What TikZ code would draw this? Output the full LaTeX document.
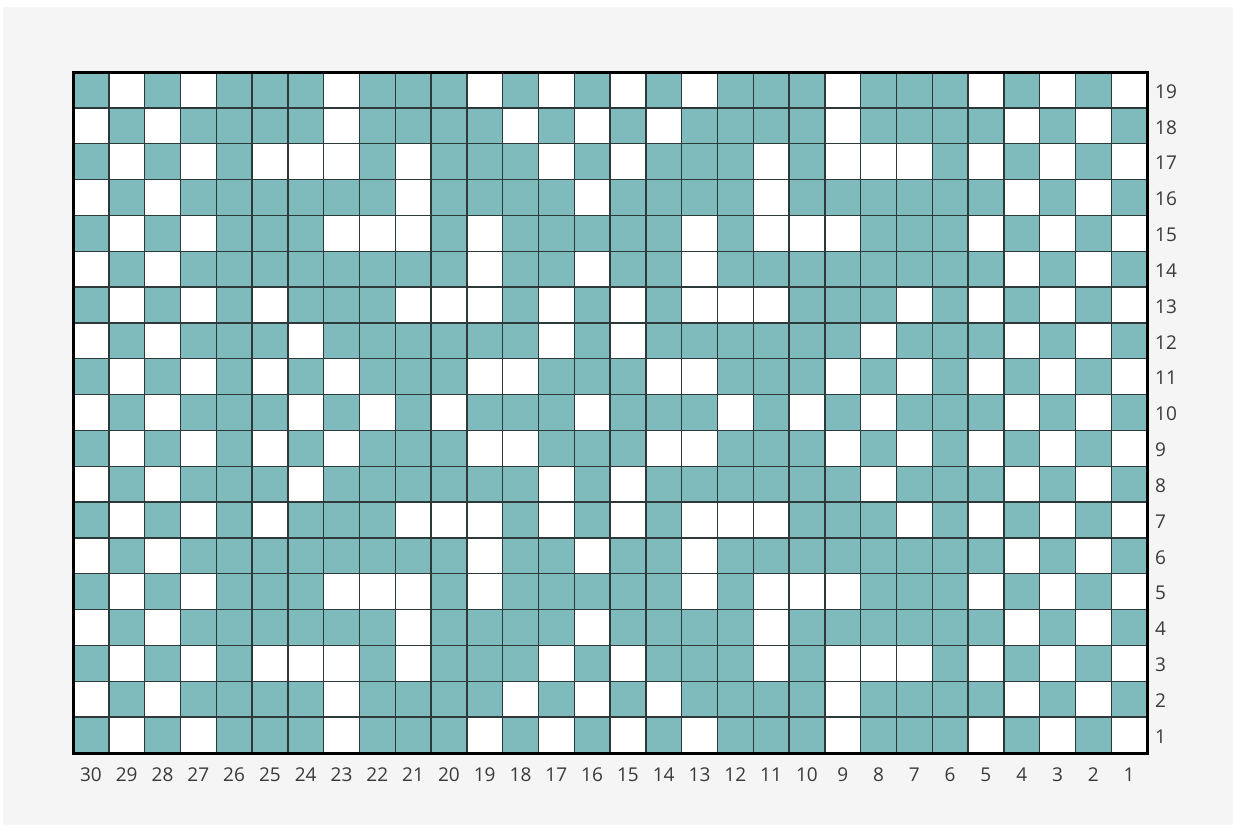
\documentclass[tikz,border=0pt]{standalone}
\usepackage{fontspec}
\setmainfont{Open Sans}
\definecolor{cellteal}{HTML}{7FBBBD}
\definecolor{bggray}{HTML}{F5F5F5}
\definecolor{gridline}{HTML}{2E3A3A}
\definecolor{labelgray}{HTML}{3A3A3A}
\newcommand\cellrow[2]{%
  \foreach \v [count=\c] in {#2} {%
    \ifnum\v=1
      \fill[cellteal] ({73+(\c-1)*35.8},{72+(19-#1)*35.84}) rectangle ++(35.8,35.84);
    \fi
  }%
}
\tikzset{
  collabel/.style={font=\fontsize{19}{22}\selectfont, text=labelgray, anchor=center, inner sep=0pt},
  rowlabel/.style={font=\fontsize{19}{22}\selectfont, text=labelgray, anchor=west, inner sep=0pt},
  gridlines/.style={draw=gridline, line width=1.4pt},
  border/.style={draw=black, line width=3pt}
}
\begin{document}
\begin{tikzpicture}[x=1pt,y=-1pt]
\useasboundingbox (0,0) rectangle (1236,827);
\fill[white] (0,0) rectangle (1236,827);
\fill[bggray] (3,7) rectangle (1233,825);
\fill[white] (73,72) rectangle (1147,753);
\cellrow{19}{1,0,1,0,1,1,1,0,1,1, 1,0,1,0,1,0,1,0,1,1, 1,0,1,1,1,0,1,0,1,0}
\cellrow{18}{0,1,0,1,1,1,1,0,1,1, 1,1,0,1,0,1,0,1,1,1, 1,0,1,1,1,1,0,1,0,1}
\cellrow{17}{1,0,1,0,1,0,0,0,1,0, 1,1,1,0,1,0,1,1,1,0, 1,0,0,0,1,0,1,0,1,0}
\cellrow{16}{0,1,0,1,1,1,1,1,1,0, 1,1,1,1,0,1,1,1,1,0, 1,1,1,1,1,1,0,1,0,1}
\cellrow{15}{1,0,1,0,1,1,1,0,0,0, 1,0,1,1,1,1,1,0,1,0, 0,0,1,1,1,0,1,0,1,0}
\cellrow{14}{0,1,0,1,1,1,1,1,1,1, 1,0,1,1,0,1,1,0,1,1, 1,1,1,1,1,1,0,1,0,1}
\cellrow{13}{1,0,1,0,1,0,1,1,1,0, 0,0,1,0,1,0,1,0,0,0, 1,1,1,0,1,0,1,0,1,0}
\cellrow{12}{0,1,0,1,1,1,0,1,1,1, 1,1,1,0,1,0,1,1,1,1, 1,1,0,1,1,1,0,1,0,1}
\cellrow{11}{1,0,1,0,1,0,1,0,1,1, 1,0,0,1,1,1,0,0,1,1, 1,0,1,0,1,0,1,0,1,0}
\cellrow{10}{0,1,0,1,1,1,0,1,0,1, 0,1,1,1,0,1,1,1,0,1, 0,1,0,1,1,1,0,1,0,1}
\cellrow{9}{1,0,1,0,1,0,1,0,1,1, 1,0,0,1,1,1,0,0,1,1, 1,0,1,0,1,0,1,0,1,0}
\cellrow{8}{0,1,0,1,1,1,0,1,1,1, 1,1,1,0,1,0,1,1,1,1, 1,1,0,1,1,1,0,1,0,1}
\cellrow{7}{1,0,1,0,1,0,1,1,1,0, 0,0,1,0,1,0,1,0,0,0, 1,1,1,0,1,0,1,0,1,0}
\cellrow{6}{0,1,0,1,1,1,1,1,1,1, 1,0,1,1,0,1,1,0,1,1, 1,1,1,1,1,1,0,1,0,1}
\cellrow{5}{1,0,1,0,1,1,1,0,0,0, 1,0,1,1,1,1,1,0,1,0, 0,0,1,1,1,0,1,0,1,0}
\cellrow{4}{0,1,0,1,1,1,1,1,1,0, 1,1,1,1,0,1,1,1,1,0, 1,1,1,1,1,1,0,1,0,1}
\cellrow{3}{1,0,1,0,1,0,0,0,1,0, 1,1,1,0,1,0,1,1,1,0, 1,0,0,0,1,0,1,0,1,0}
\cellrow{2}{0,1,0,1,1,1,1,0,1,1, 1,1,0,1,0,1,0,1,1,1, 1,0,1,1,1,1,0,1,0,1}
\cellrow{1}{1,0,1,0,1,1,1,0,1,1, 1,0,1,0,1,0,1,0,1,1, 1,0,1,1,1,0,1,0,1,0}
% grid lines
\foreach \i in {1,...,29} {
  \draw[gridlines] ({73+\i*35.8},72) -- ({73+\i*35.8},753);
}
\foreach \j in {1,...,18} {
  \draw[gridlines] (73,{72+\j*35.84}) -- (1147,{72+\j*35.84});
}
\draw[border] (73,72) rectangle (1147,753);
% column labels
\foreach \c in {1,...,30} {
  \pgfmathtruncatemacro\lab{31-\c}
  \node[collabel] (col\lab) at ({73+(\c-0.5)*35.8},775) {\lab};
}
% row labels
\foreach \r in {1,...,19} {
  \node[rowlabel] (row\r) at (1155,{73.5+(19-\r+0.5)*35.84}) {\r};
}
\end{tikzpicture}
\end{document}
